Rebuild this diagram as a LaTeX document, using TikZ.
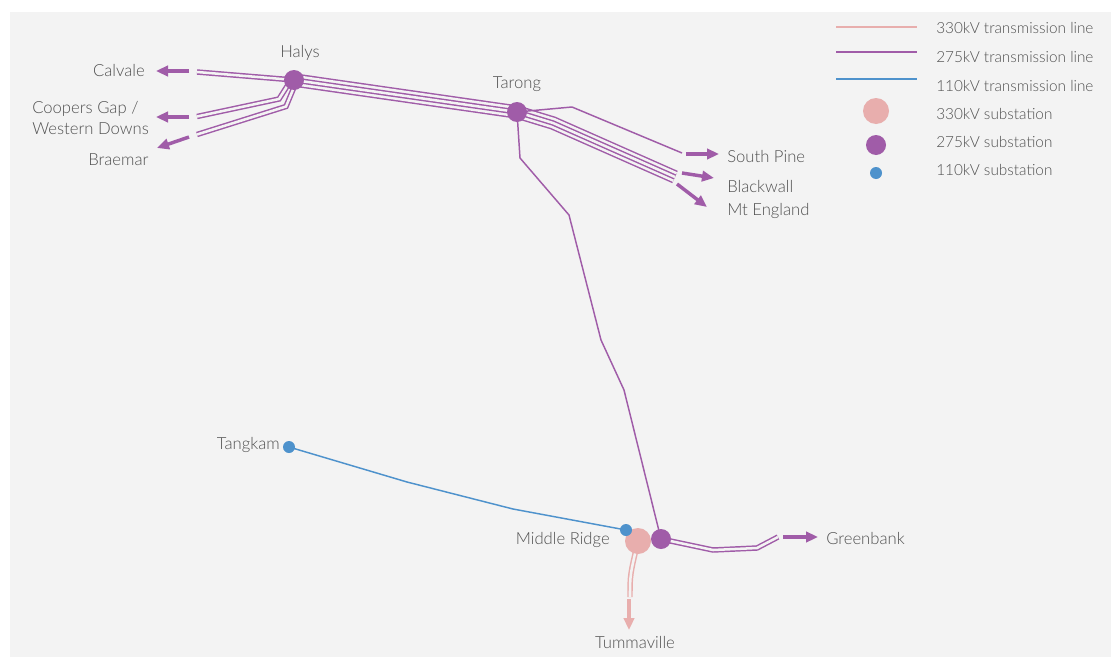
\documentclass[tikz,border=0pt]{standalone}
\usepackage{fontspec}
\IfFontExistsTF{Lato Light}{\setmainfont{Lato Light}}{\setmainfont{Lato}}
\usetikzlibrary{arrows.meta,calc}
\definecolor{bg}{HTML}{F3F3F3}
\definecolor{pinkc}{HTML}{E8AEAD}
\definecolor{purc}{HTML}{A05CA8}
\definecolor{bluc}{HTML}{4E92CC}
\definecolor{txt}{HTML}{505050}
\pgfdeclarelayer{back}
\pgfsetlayers{back,main}
\begin{document}
\begin{tikzpicture}[x=0.75pt,y=-0.75pt,
 lbl/.style={font=\fontsize{12.5pt}{15pt}\selectfont, text=txt, inner sep=0pt},
 leglbl/.style={font=\fontsize{11.5pt}{14pt}\selectfont, text=txt, inner sep=0pt},
 ln/.style={line width=1.1pt},
 pair/.style={line width=1.1pt, double=bg, double distance=1.9pt},
 outerpair/.style={line width=1.1pt, double=bg, double distance=7.9pt},
 arr/.style={line width=2.6pt, -{Triangle[length=9pt,width=7.8pt]}},
 sub330/.style={circle, fill=pinkc, minimum size=19.5pt, inner sep=0pt},
 sub275/.style={circle, fill=purc, minimum size=15pt, inner sep=0pt},
 sub110/.style={circle, fill=bluc, minimum size=9pt, inner sep=0pt},
]
\useasboundingbox (0,0) rectangle (1111,657);
\begin{pgfonlayer}{back}
\fill[white] (0,0) rectangle (1111,657);
\fill[bg] (10,12) rectangle (1111,657);
\end{pgfonlayer}

% substations
\node[sub275] (halys) at (294,80) {};
\node[sub275] (tarong) at (517,112) {};
\node[sub330] (mrp) at (638,541) {};
\node[sub110] (mrb) at (626,530) {};
\node[sub275] (mrv) at (661,539) {};
\node[sub110] (tangkam) at (289,447) {};

% labels
\node[lbl, anchor=base] (halysL) at (300,57) {Halys};
\node[lbl, anchor=base] (tarongL) at (517,88) {Tarong};
\node[lbl, anchor=base east] (calvaleL) at (145,76) {Calvale};
\node[lbl, anchor=base west] (coopersL) at (32,113) {Coopers Gap /};
\node[lbl, anchor=base west] (westernL) at (32,134) {Western Downs};
\node[lbl, anchor=base west] (braemarL) at (88,165) {Braemar};
\node[lbl, anchor=base west] (southpineL) at (727,162) {South Pine};
\node[lbl, anchor=base west] (blackwallL) at (727,192) {Blackwall};
\node[lbl, anchor=base west] (mtenglandL) at (727,215) {Mt England};
\node[lbl, anchor=base east] (middleridgeL) at (610,544) {Middle Ridge};
\node[lbl, anchor=base west] (greenbankL) at (826,544) {Greenbank};
\node[lbl, anchor=base] (tummavilleL) at (635,648) {Tummaville};
\node[lbl, anchor=base east] (tangkamL) at (280,449) {Tangkam};

% legend
\node[sub330] (leg330) at (876,111) {};
\node[sub275] (leg275) at (876,145) {};
\node[sub110] (leg110) at (876,173) {};
\node[leglbl, anchor=base west] (legL1) at (936,33) {330kV transmission line};
\node[leglbl, anchor=base west] (legL2) at (936,62) {275kV transmission line};
\node[leglbl, anchor=base west] (legL3) at (936,91) {110kV transmission line};
\node[leglbl, anchor=base west] (legL4) at (936,119) {330kV substation};
\node[leglbl, anchor=base west] (legL5) at (936,147) {275kV substation};
\node[leglbl, anchor=base west] (legL6) at (936,175) {110kV substation};

% coordinates
\coordinate (calS) at (197,72);
\coordinate (cpS) at (197,116.5);
\coordinate (cpB) at (279,99);
\coordinate (brS) at (197,134.5);
\coordinate (brB) at (286,106.5);
\coordinate (tb1) at (553,123);
\coordinate (tb2) at (675,177);
\coordinate (sp1) at (572,107);
\coordinate (sp2) at (682,153);
\coordinate (tm1) at (520,158);
\coordinate (tm2) at (569,215);
\coordinate (tm3) at (601,340);
\coordinate (tm4) at (624,390);
\coordinate (gb1) at (713,550);
\coordinate (gb2) at (757,548);
\coordinate (gb3) at (778,537);
\coordinate (tu1) at (630,597);
\coordinate (bl1) at (407,482);
\coordinate (bl2) at (513,509);
% arrow stubs
\coordinate (calA1) at (189,71);   \coordinate (calA2) at (156,71);
\coordinate (cpA1) at (189,117);   \coordinate (cpA2) at (156,117);
\coordinate (brA1) at (189,137);   \coordinate (brA2) at (157,148);
\coordinate (spA1) at (686,154);   \coordinate (spA2) at (719,154);
\coordinate (bwA1) at (682,173);   \coordinate (bwA2) at (714,178);
\coordinate (meA1) at (677,184);   \coordinate (meA2) at (707,207);
\coordinate (gbA1) at (783,537);   \coordinate (gbA2) at (818,537);
\coordinate (tuA1) at (629,599);   \coordinate (tuA2) at (629,630);

\begin{pgfonlayer}{back}
% legend lines
\draw[pinkc, ln] (836,27) -- (917,27);
\draw[purc, ln] (836,52) -- (917,52);
\draw[bluc, ln] (836,79) -- (917,79);

% 275kV bundles
\draw[purc, outerpair] (halys.center) -- (tarong.center) -- (tb1) -- (tb2);
\draw[purc, pair] (halys.center) -- (tarong.center) -- (tb1) -- (tb2);
\draw[purc, pair] (calS) -- (halys.center);
\draw[purc, pair] (cpS) -- (cpB) -- ($(halys.center)+(-3,0)$);
\draw[purc, pair] (brS) -- (brB) -- ($(halys.center)+(3,0)$);
\draw[purc, pair] (mrv.center) -- (gb1) -- (gb2) -- (gb3);
% 330kV
\draw[pinkc, pair] (mrp.center) .. controls (630,575) .. (tu1);
% single lines
\draw[purc, ln] (tarong.center) -- (sp1) -- (sp2);
\draw[purc, ln, line join=round] (tarong.center) -- (tm1) -- (tm2) -- (tm3) -- (tm4) -- (mrv.center);
\draw[bluc, ln, line join=round] (tangkam.center) -- (bl1) -- (bl2) -- (mrb.center);

% arrows
\draw[purc, arr] (calA1) -- (calA2);
\draw[purc, arr] (cpA1) -- (cpA2);
\draw[purc, arr] (brA1) -- (brA2);
\draw[purc, arr] (spA1) -- (spA2);
\draw[purc, arr] (bwA1) -- (bwA2);
\draw[purc, arr] (meA1) -- (meA2);
\draw[purc, arr] (gbA1) -- (gbA2);
\draw[pinkc, arr] (tuA1) -- (tuA2);
\end{pgfonlayer}
\end{tikzpicture}
\end{document}
